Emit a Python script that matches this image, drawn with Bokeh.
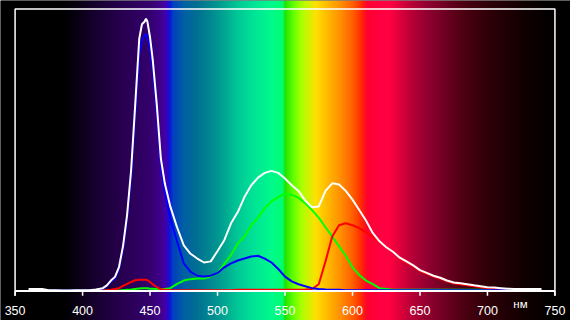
import numpy as np
from bokeh.plotting import figure
from bokeh.models import Range1d, ColumnDataSource
from bokeh.core.properties import value
from bokeh.embed import file_html
from bokeh.resources import INLINE

# ---------------- data ----------------
wl = [360, 365, 370, 375, 380, 385, 390, 395, 400, 405, 410, 415, 418, 421, 424, 427,
      430, 433, 436, 439, 442, 444, 446, 447, 448, 450, 452, 455, 458, 461, 465, 470,
      475, 480, 485, 490, 495, 500, 505, 510, 515, 520, 525, 530, 535, 540, 545, 550,
      555, 560, 565, 570, 575, 580, 585, 590, 595, 600, 605, 610, 615, 620, 625, 630,
      635, 640, 645, 650, 655, 660, 665, 670, 675, 680, 685, 690, 695, 700, 705, 710,
      715, 720, 725, 730, 735, 740]

white = [0.007, 0.007, 0.007, 0.003, 0.003, 0.002, 0.002, 0.003, 0.003, 0.003, 0.005, 0.010, 0.020, 0.037, 0.050, 0.085,
         0.160, 0.270, 0.430, 0.660, 0.895, 0.946, 0.956, 0.966, 0.956, 0.900, 0.820, 0.660, 0.470, 0.380, 0.300, 0.226,
         0.162, 0.132, 0.115, 0.101, 0.105, 0.142, 0.180, 0.240, 0.280, 0.334, 0.375, 0.402, 0.419, 0.426, 0.419, 0.399,
         0.375, 0.355, 0.321, 0.297, 0.300, 0.355, 0.382, 0.378, 0.355, 0.324, 0.287, 0.250, 0.206, 0.176, 0.155, 0.139,
         0.118, 0.105, 0.091, 0.074, 0.064, 0.054, 0.047, 0.037, 0.030, 0.027, 0.024, 0.020, 0.017, 0.0135, 0.012, 0.010,
         0.008, 0.007, 0.007, 0.007, 0.007, 0.007]

blue = [0.002, 0.002, 0.002, 0.002, 0.002, 0.002, 0.002, 0.002, 0.002, 0.002, 0.004, 0.008, 0.018, 0.033, 0.045, 0.078,
        0.150, 0.260, 0.410, 0.630, 0.840, 0.890, 0.905, 0.912, 0.900, 0.860, 0.790, 0.640, 0.450, 0.350, 0.260, 0.176,
        0.098, 0.068, 0.054, 0.051, 0.054, 0.064, 0.084, 0.098, 0.108, 0.115, 0.122, 0.125, 0.115, 0.101, 0.078, 0.051,
        0.034, 0.024, 0.017, 0.010, 0.007, 0.005, 0.004, 0.004, 0.003, 0.003, 0.003, 0.003, 0.003, 0.003, 0.003, 0.003,
        0.003, 0.003, 0.003, 0.003, 0.003, 0.003, 0.003, 0.003, 0.003, 0.003, 0.003, 0.003, 0.003, 0.003, 0.003, 0.003,
        0.003, 0.003, 0.003, 0.003, 0.003, 0.003]

green = [0.001, 0.001, 0.001, 0.001, 0.001, 0.001, 0.001, 0.001, 0.001, 0.001, 0.001, 0.001, 0.001, 0.001, 0.002, 0.002,
         0.003, 0.004, 0.005, 0.007, 0.009, 0.010, 0.010, 0.010, 0.010, 0.008, 0.008, 0.007, 0.007, 0.007, 0.010, 0.025,
         0.037, 0.042, 0.044, 0.044, 0.051, 0.064, 0.095, 0.128, 0.169, 0.193, 0.233, 0.260, 0.294, 0.318, 0.334, 0.345,
         0.341, 0.331, 0.311, 0.287, 0.260, 0.226, 0.193, 0.159, 0.125, 0.084, 0.057, 0.037, 0.024, 0.010, 0.007, 0.004,
         0.004, 0.004, 0.004, 0.004, 0.004, 0.004, 0.004, 0.004, 0.004, 0.004, 0.004, 0.004, 0.004, 0.004, 0.004, 0.004,
         0.004, 0.004, 0.004, 0.004, 0.004, 0.004]

red = [0.000, 0.000, 0.000, 0.000, 0.000, 0.000, 0.000, 0.000, 0.000, 0.000, 0.001, 0.002, 0.003, 0.004, 0.007, 0.010,
       0.018, 0.025, 0.032, 0.038, 0.040, 0.040, 0.040, 0.040, 0.038, 0.032, 0.024, 0.014, 0.006, 0.004, 0.003, 0.003,
       0.003, 0.003, 0.003, 0.003, 0.003, 0.003, 0.003, 0.003, 0.004, 0.004, 0.004, 0.004, 0.004, 0.004, 0.004, 0.004,
       0.004, 0.004, 0.005, 0.007, 0.024, 0.105, 0.193, 0.233, 0.240, 0.233, 0.223, 0.209, 0.193, 0.172, 0.155, 0.139,
       0.115, 0.101, 0.088, 0.071, 0.061, 0.051, 0.044, 0.034, 0.027, 0.024, 0.020, 0.017, 0.0135, 0.010, 0.008, 0.007,
       0.006, 0.005, 0.005, 0.004, 0.004, 0.004]

tick_values = [350, 400, 450, 500, 550, 600, 650, 700, 750]
tick_labels = ["350", "400", "450", "500", "550", "600", "650", "700", "750"]
unit_label = "нм"

# ---------------- layout constants ----------------
X_MIN, X_MAX = 350, 750
Y_MIN, Y_MAX = 0.0, 1.0
W, H = 570, 320
KX, KY = W / 586, H / 336          # reference-pixel -> figure-pixel
FX0, FX1 = 15 * KX, 570 * KX       # frame left/right in figure px
FY_TOP, FY_BOT = 9 * KY, 305 * KY  # frame top/bottom in figure px
sx = (FX1 - FX0) / (X_MAX - X_MIN)
sy = (FY_BOT - FY_TOP) / (Y_MAX - Y_MIN)
xr0 = X_MIN - FX0 / sx
xr1 = X_MAX + (W - FX1) / sx
yr1 = Y_MAX + FY_TOP / sy
yr0 = Y_MIN - (H - FY_BOT) / sy

p = figure(width=W, height=H, output_backend="svg", toolbar_location=None,
           x_range=Range1d(xr0, xr1), y_range=Range1d(yr0, yr1),
           min_border=0, min_border_left=0, min_border_right=0,
           min_border_top=0, min_border_bottom=0)
p.xaxis.visible = False
p.yaxis.visible = False
p.grid.visible = False
p.outline_line_color = None
p.background_fill_color = "black"
p.border_fill_color = "black"

# ---------------- spectrum background ----------------
stops_wl = [340, 385, 395, 410, 430, 450, 458, 462, 464.5, 467, 475, 485, 500, 515, 528, 540, 548.5,
            550, 556, 563, 573, 580, 591, 600, 606, 611, 620, 628, 642, 656, 671, 685, 700, 714, 728, 743, 760]
stops_r = [0, 0, 8, 24, 40, 52, 64, 64, 16, 0, 0, 0, 0, 0, 0, 0, 0,
           32, 96, 176, 255, 255, 255, 255, 255, 255, 255, 255, 192, 144, 104, 72, 48, 32, 16, 5, 0]
stops_g = [0, 0, 0, 0, 0, 0, 0, 0, 16, 64, 96, 112, 150, 200, 230, 250, 255,
           225, 255, 255, 224, 192, 144, 96, 48, 0, 0, 0, 0, 0, 0, 0, 0, 0, 0, 0, 0]
stops_b = [0, 0, 16, 48, 80, 110, 140, 176, 224, 190, 165, 144, 144, 150, 150, 140, 112,
           0, 0, 0, 0, 0, 0, 0, 0, 48, 64, 64, 56, 48, 32, 16, 8, 5, 0, 0, 0]

cols = W
xs_px = xr0 + (np.arange(cols) + 0.5) * (xr1 - xr0) / cols
rr = np.interp(xs_px, stops_wl, stops_r).astype(np.uint32)
gg = np.interp(xs_px, stops_wl, stops_g).astype(np.uint32)
bb = np.interp(xs_px, stops_wl, stops_b).astype(np.uint32)
row = (255 << 24) | (bb << 16) | (gg << 8) | rr
img = np.tile(row, (2, 1)).astype(np.uint32)
p.image_rgba(image=[img], x=xr0, y=yr0, dw=xr1 - xr0, dh=yr1 - yr0, level="image")

# ---------------- curves ----------------
src = ColumnDataSource(dict(wl=wl, white=white, blue=blue, green=green, red=red))
p.line("wl", "green", source=src, line_color="#00ff00", line_width=2)
p.line("wl", "red", source=src, line_color="#ff0000", line_width=2)
p.line("wl", "blue", source=src, line_color="#0000ff", line_width=2)
p.line("wl", "white", source=src, line_color="#ffffff", line_width=2)

# ---------------- frame / axis ----------------
tick_len = 5 * KY / sy
p.line([X_MIN, X_MIN, X_MAX, X_MAX], [Y_MIN - tick_len, Y_MAX, Y_MAX, Y_MIN - tick_len],
       line_color="white", line_width=1.5)
p.line([X_MIN, X_MAX], [Y_MIN, Y_MIN], line_color="white", line_width=2)
p.segment(x0=tick_values, y0=[Y_MIN] * len(tick_values), x1=tick_values,
          y1=[Y_MIN - tick_len] * len(tick_values), line_color="white", line_width=1.5)
p.text(x=tick_values, y=[Y_MIN - 21 * KY / sy] * len(tick_values), text=tick_labels,
       text_color="white", text_font=value("Liberation Sans"), text_font_size="12.5px",
       text_align="center", text_baseline="middle")
p.text(x=[X_MIN + (534.5 - 15) * KX / sx], y=[Y_MIN - 14 * KY / sy], text=[unit_label],
       text_color="white", text_font=value("Liberation Sans"), text_font_size="11.5px",
       text_align="center", text_baseline="middle")

html = file_html(p, INLINE)
html = html.replace("<body>", '<body style="background:#000">', 1)
open("out.html", "w").write(html)
